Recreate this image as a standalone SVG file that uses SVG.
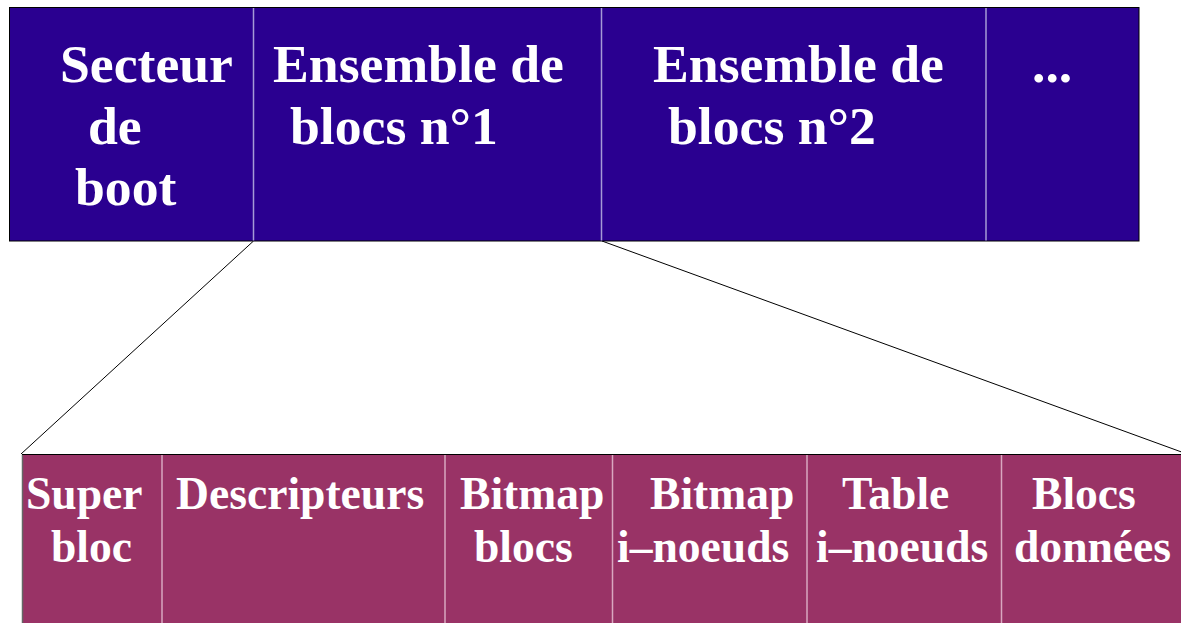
<svg xmlns="http://www.w3.org/2000/svg" width="1181" height="623" viewBox="0 0 1181 623">
<style>
.t{font-family:"Liberation Serif","Times New Roman",serif;font-weight:bold;fill:#ffffff}
.top{font-size:53.7px}
.bot{font-size:45.6px}
.dt{stroke:#a59ad6;stroke-width:1.5}
.db{stroke:#d9a8c0;stroke-width:1.5}
.conn{stroke:#000;stroke-width:1;fill:none}
</style>
<rect x="0" y="0" width="1181" height="623" fill="#ffffff"/>
<g id="connectors">
<line class="conn" x1="253.5" y1="241" x2="21" y2="454"/>
<line class="conn" x1="602" y1="241" x2="1187" y2="454"/>
</g>
<g id="top-row">
<rect x="9.5" y="7.5" width="1129.5" height="233.5" fill="#2a0090" stroke="#000" stroke-width="1"/>
<line class="dt" x1="253.5" y1="8" x2="253.5" y2="240.5"/>
<line class="dt" x1="601.5" y1="8" x2="601.5" y2="240.5"/>
<line class="dt" x1="986" y1="8" x2="986" y2="240.5"/>
</g>
<g id="secteur-boot">
<text class="t top" x="60" y="82">Secteur</text>
<text class="t top" x="88" y="144">de</text>
<text class="t top" x="75" y="205">boot</text>
</g>
<g id="ensemble-1">
<text class="t top" x="273" y="82">Ensemble de</text>
<text class="t top" x="290" y="144">blocs n°1</text>
</g>
<g id="ensemble-2">
<text class="t top" x="653" y="82">Ensemble de</text>
<text class="t top" x="668" y="144">blocs n°2</text>
</g>
<g id="more">
<text class="t top" x="1032" y="82">...</text>
</g>
<g id="bottom-row">
<rect x="22.5" y="454.5" width="1170" height="180" fill="#993366" stroke="#000" stroke-width="1"/>
<line x1="22.5" y1="455" x2="22.5" y2="623" stroke="#666" stroke-width="1.5"/>
<line class="db" x1="162" y1="455" x2="162" y2="623"/>
<line class="db" x1="445" y1="455" x2="445" y2="623"/>
<line class="db" x1="612.5" y1="455" x2="612.5" y2="623"/>
<line class="db" x1="807" y1="455" x2="807" y2="623"/>
<line class="db" x1="1001.5" y1="455" x2="1001.5" y2="623"/>
</g>
<g id="super-bloc">
<text class="t bot" x="26" y="509">Super</text>
<text class="t bot" x="51" y="562">bloc</text>
</g>
<g id="descripteurs">
<text class="t bot" x="176" y="509">Descripteurs</text>
</g>
<g id="bitmap-blocs">
<text class="t bot" x="460" y="509">Bitmap</text>
<text class="t bot" x="474" y="562">blocs</text>
</g>
<g id="bitmap-inoeuds">
<text class="t bot" x="650" y="509">Bitmap</text>
<text class="t bot" x="617" y="562">i–noeuds</text>
</g>
<g id="table-inoeuds">
<text class="t bot" x="842" y="509">Table</text>
<text class="t bot" x="816" y="562">i–noeuds</text>
</g>
<g id="blocs-donnees">
<text class="t bot" x="1032" y="509">Blocs</text>
<text class="t bot" x="1014" y="562">données</text>
</g>
</svg>
